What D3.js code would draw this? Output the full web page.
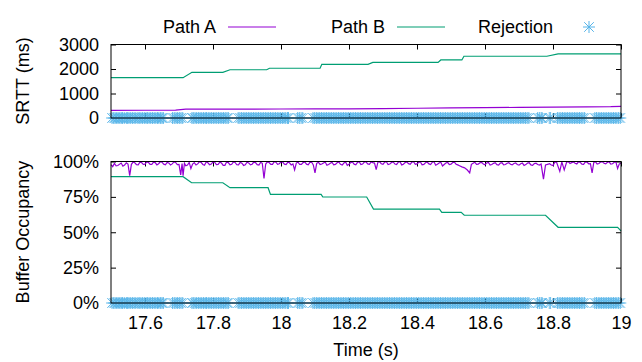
<!DOCTYPE html>
<html>
<head>
<meta charset="utf-8">
<script src="https://cdn.jsdelivr.net/npm/d3@7/dist/d3.min.js"></script>
<style>
  body { margin: 0; background: #fff; }
  svg text { font-family: "Liberation Sans", Arial, sans-serif; fill: #000; }
</style>
</head>
<body>
<svg id="chart" width="642" height="362"></svg>
<script>
// series names and colours
const seriesNames = ["Path A", "Path B", "Rejection"];
const seriesColors = ["#9400d3", "#009e73", "#56b4e9"];

// tick values
const xTicks = [17.6, 17.8, 18, 18.2, 18.4, 18.6, 18.8, 19];
const srttTicks = [0, 1000, 2000, 3000];
const bufTicks = [0, 25, 50, 75, 100];

// SRTT (ms), [time s, value]
const srttA = [
  [17.5, 310], [17.6, 316], [17.69, 322], [17.72, 360], [17.8, 362], [17.9, 365],
  [18.0, 368], [18.1, 370], [18.2, 375], [18.3, 385], [18.4, 398], [18.5, 410],
  [18.6, 422], [18.7, 433], [18.8, 444], [18.9, 455], [18.97, 464], [19.0, 478]
];
const srttB = [
  [17.5, 1645], [17.712, 1645], [17.738, 1865], [17.829, 1865], [17.85, 1970],
  [17.958, 1970], [17.966, 2030], [18.115, 2030], [18.12, 2190], [18.256, 2190],
  [18.27, 2270], [18.462, 2270], [18.47, 2370], [18.532, 2370], [18.538, 2520],
  [18.782, 2520], [18.815, 2620], [19.0, 2620]
];

// buffer occupancy (%), [time s, value]
const bufA = [
  [17.500, 97.8], [17.505, 96.4], [17.510, 98.6], [17.515, 96.9], [17.520, 97.2],
  [17.530, 98.9], [17.535, 96.7], [17.540, 97.5], [17.545, 99.0], [17.550, 98.2],
  [17.555, 90.0], [17.560, 98.0], [17.565, 99.6], [17.570, 99.1], [17.575, 97.8],
  [17.580, 97.6], [17.585, 99.5], [17.590, 99.3], [17.595, 97.9], [17.600, 98.1],
  [17.605, 99.7], [17.610, 99.4], [17.615, 98.0], [17.620, 97.9], [17.625, 99.6],
  [17.630, 99.2], [17.635, 97.6], [17.640, 98.4], [17.645, 99.8], [17.650, 99.5],
  [17.655, 98.1], [17.660, 97.7], [17.665, 99.4], [17.670, 99.0], [17.675, 97.5],
  [17.680, 98.3], [17.685, 99.7], [17.690, 99.3], [17.695, 97.8], [17.700, 98.0],
  [17.705, 90.5], [17.709, 98.5], [17.712, 90.0], [17.716, 98.8], [17.720, 97.0],
  [17.725, 97.5], [17.730, 99.4], [17.735, 95.0], [17.740, 98.2], [17.745, 99.2],
  [17.750, 97.5], [17.755, 98.3], [17.760, 99.8], [17.765, 99.4], [17.770, 97.9],
  [17.775, 97.4], [17.780, 99.6], [17.785, 99.1], [17.790, 97.7], [17.795, 98.2],
  [17.800, 99.7], [17.805, 99.5], [17.810, 97.8], [17.815, 97.9], [17.820, 99.5],
  [17.825, 98.9], [17.830, 97.2], [17.835, 97.3], [17.840, 99.6], [17.845, 99.2],
  [17.850, 97.6], [17.855, 98.0], [17.860, 99.7], [17.865, 99.3], [17.870, 97.7],
  [17.875, 97.6], [17.880, 99.4], [17.885, 98.8], [17.890, 97.2], [17.895, 97.7],
  [17.900, 99.5], [17.905, 99.0], [17.910, 97.6], [17.915, 98.1], [17.920, 99.6],
  [17.925, 99.2], [17.930, 97.8], [17.935, 97.5], [17.940, 99.4], [17.945, 98.7],
  [17.950, 88.0], [17.955, 98.2], [17.960, 99.7], [17.965, 99.3], [17.970, 97.9],
  [17.975, 98.0], [17.980, 99.8], [17.985, 99.5], [17.990, 98.0], [17.995, 98.4],
  [18.000, 99.8], [18.005, 99.6], [18.010, 98.1], [18.015, 97.8], [18.020, 99.5],
  [18.025, 99.1], [18.030, 97.6], [18.035, 98.3], [18.040, 94.0], [18.045, 98.9],
  [18.050, 99.6], [18.055, 97.9], [18.060, 98.0], [18.065, 99.2], [18.070, 99.7],
  [18.075, 98.1], [18.080, 97.7], [18.085, 99.4], [18.090, 99.6], [18.095, 97.6],
  [18.100, 92.0], [18.105, 98.7], [18.110, 99.5], [18.115, 97.9], [18.120, 98.2],
  [18.125, 99.0], [18.130, 99.6], [18.135, 97.4], [18.140, 97.9], [18.145, 98.8],
  [18.150, 99.5], [18.155, 97.7], [18.160, 98.0], [18.165, 99.1], [18.170, 99.7],
  [18.175, 98.0], [18.180, 97.5], [18.185, 98.9], [18.190, 99.6], [18.195, 97.3],
  [18.200, 98.0], [18.205, 99.2], [18.210, 99.7], [18.215, 98.1], [18.220, 97.7],
  [18.225, 99.4], [18.230, 99.8], [18.235, 97.8], [18.240, 98.2], [18.245, 99.6],
  [18.250, 99.8], [18.255, 98.3], [18.260, 98.0], [18.265, 99.7], [18.270, 99.2],
  [18.275, 98.9], [18.280, 94.2], [18.285, 99.5], [18.290, 99.8], [18.295, 98.4],
  [18.300, 98.0], [18.305, 99.6], [18.310, 99.8], [18.315, 97.9], [18.320, 98.2],
  [18.325, 99.3], [18.330, 99.7], [18.335, 98.2], [18.340, 97.9], [18.345, 99.5],
  [18.350, 99.8], [18.355, 97.6], [18.360, 98.1], [18.365, 99.2], [18.370, 99.7],
  [18.375, 98.5], [18.380, 98.0], [18.385, 99.6], [18.390, 99.8], [18.395, 98.0],
  [18.400, 98.3], [18.405, 99.4], [18.410, 99.7], [18.415, 97.7], [18.420, 98.0],
  [18.425, 99.1], [18.430, 99.6], [18.435, 98.3], [18.440, 97.8], [18.445, 99.5],
  [18.450, 99.8], [18.455, 97.4], [18.460, 98.0], [18.465, 99.0], [18.470, 99.5],
  [18.475, 96.8], [18.480, 97.9], [18.485, 98.9], [18.490, 99.4], [18.495, 97.8],
  [18.500, 98.1], [18.505, 99.3], [18.510, 99.6], [18.515, 98.1], [18.520, 97.6],
  [18.525, 97.0], [18.532, 96.2], [18.540, 95.5], [18.548, 94.0], [18.555, 92.0],
  [18.560, 98.0], [18.565, 98.8], [18.570, 99.5], [18.575, 97.9], [18.580, 98.1],
  [18.585, 99.1], [18.590, 99.4], [18.595, 98.2], [18.600, 97.7], [18.605, 99.0],
  [18.610, 99.3], [18.615, 97.5], [18.620, 97.9], [18.625, 98.7], [18.630, 99.2],
  [18.635, 97.8], [18.640, 97.5], [18.645, 98.9], [18.650, 99.1], [18.655, 97.6],
  [18.660, 97.9], [18.665, 98.8], [18.670, 99.2], [18.675, 98.1], [18.680, 97.6],
  [18.685, 98.6], [18.690, 99.0], [18.695, 97.9], [18.700, 97.4], [18.705, 98.4],
  [18.710, 98.9], [18.715, 97.2], [18.720, 97.8], [18.725, 98.9], [18.730, 99.1],
  [18.735, 97.6], [18.740, 97.3], [18.745, 98.5], [18.750, 98.8], [18.755, 97.9],
  [18.760, 97.5], [18.765, 98.2], [18.772, 87.5], [18.778, 97.6], [18.784, 98.0],
  [18.790, 98.4], [18.795, 97.5], [18.800, 97.1], [18.805, 99.4], [18.810, 99.8],
  [18.820, 93.0], [18.826, 99.7], [18.833, 94.0], [18.840, 99.5], [18.845, 99.9],
  [18.850, 98.6], [18.855, 99.2], [18.860, 99.7], [18.865, 98.8], [18.870, 98.3],
  [18.875, 99.8], [18.880, 99.4], [18.885, 98.1], [18.890, 98.0], [18.895, 99.7],
  [18.900, 99.6], [18.905, 98.4], [18.910, 98.5], [18.915, 92.0], [18.920, 99.3],
  [18.925, 99.8], [18.930, 98.2], [18.935, 98.6], [18.940, 99.6], [18.945, 99.9],
  [18.950, 98.7], [18.955, 98.3], [18.960, 99.4], [18.965, 99.8], [18.970, 98.1],
  [18.975, 98.4], [18.980, 99.5], [18.985, 99.7], [18.990, 95.0], [18.995, 98.3],
  [19.000, 98.8]
];
const bufB = [
  [17.5, 89.3], [17.712, 89.3], [17.737, 85.0], [17.829, 85.0], [17.85, 81.5],
  [17.962, 81.5], [17.969, 76.8], [18.118, 76.8], [18.123, 74.9], [18.252, 74.9],
  [18.272, 66.4], [18.466, 66.4], [18.473, 64.1], [18.53, 64.1], [18.539, 62.0],
  [18.778, 62.0], [18.815, 53.5], [18.99, 53.5], [19.0, 51.0]
];

// rejection event times (s)
const rejections = [
  17.503, 17.508, 17.512, 17.517, 17.521, 17.526, 17.530, 17.534, 17.539, 17.545,
  17.549, 17.553, 17.558, 17.563, 17.568, 17.573, 17.579, 17.583, 17.588, 17.593,
  17.598, 17.603, 17.607, 17.612, 17.617, 17.622, 17.627, 17.632, 17.637, 17.641,
  17.646, 17.650, 17.654,
  17.681, 17.686, 17.691, 17.696, 17.701, 17.706, 17.711,
  17.738, 17.742, 17.747, 17.752, 17.757, 17.762, 17.767, 17.772, 17.777, 17.781,
  17.786, 17.791, 17.796, 17.801, 17.806, 17.811, 17.816, 17.821, 17.826, 17.831,
  17.836, 17.841, 17.845,
  17.874, 17.879, 17.884, 17.889, 17.894, 17.899, 17.904, 17.909, 17.914, 17.919,
  17.924, 17.929, 17.934, 17.939, 17.944, 17.949, 17.954, 17.959, 17.964, 17.969,
  17.974, 17.979, 17.984, 17.989, 17.994, 17.999, 18.004, 18.009, 18.014, 18.019,
  18.022,
  18.049, 18.054, 18.059, 18.064,
  18.094, 18.099, 18.104, 18.109, 18.114, 18.119, 18.124, 18.129, 18.134, 18.139,
  18.144, 18.149, 18.154, 18.159, 18.164, 18.169, 18.174, 18.179, 18.184, 18.189,
  18.194, 18.199, 18.204, 18.209, 18.214, 18.219, 18.224, 18.229, 18.234, 18.239,
  18.244, 18.249, 18.254, 18.259, 18.264, 18.269, 18.274, 18.279, 18.284, 18.289,
  18.294, 18.299, 18.304, 18.309, 18.314, 18.319, 18.324, 18.329, 18.334, 18.339,
  18.344, 18.349, 18.354, 18.359, 18.364, 18.369, 18.374, 18.379, 18.384, 18.389,
  18.394, 18.399, 18.404, 18.409, 18.414, 18.419, 18.424, 18.429, 18.434, 18.439,
  18.444, 18.449, 18.454, 18.459, 18.464, 18.469, 18.474, 18.479, 18.484, 18.489,
  18.494, 18.499, 18.504, 18.509, 18.514, 18.519, 18.524, 18.529, 18.534, 18.539,
  18.544, 18.549, 18.554, 18.559, 18.564, 18.569, 18.574, 18.579, 18.584, 18.589,
  18.594, 18.599, 18.604, 18.609, 18.614, 18.619, 18.624, 18.629, 18.634, 18.639,
  18.644, 18.649, 18.654, 18.659, 18.664, 18.669, 18.674, 18.679, 18.684, 18.689,
  18.694, 18.699, 18.704, 18.709, 18.714, 18.719, 18.724, 18.729,
  18.755, 18.760, 18.765, 18.768,
  18.789, 18.793,
  18.813, 18.818, 18.823, 18.828, 18.833, 18.838, 18.843, 18.848, 18.853, 18.858,
  18.863, 18.868, 18.873, 18.878, 18.883, 18.888, 18.893,
  18.923, 18.928, 18.933, 18.938, 18.943, 18.948, 18.953, 18.958, 18.963, 18.968,
  18.973, 18.978, 18.983, 18.988, 18.993, 18.998
];

const svg = d3.select("#chart");
const fontSize = 18;

const x = d3.scaleLinear().domain([17.5, 19]).range([111, 621]);
const yTop = d3.scaleLinear().domain([0, 3000]).range([118, 44.5]);
const yBot = d3.scaleLinear().domain([0, 100]).range([303, 161.5]);

function drawPanel(y, ticks, fmt, showXLabels) {
  const [y0, y1] = y.range();
  const g = svg.append("g");

  // left axis with labels, inward ticks
  g.append("g")
    .attr("transform", "translate(" + x.range()[0] + ",0)")
    .call(d3.axisLeft(y).tickValues(ticks).tickFormat(fmt)
      .tickSizeInner(-5).tickSizeOuter(0).tickPadding(12))
    .call(a => a.select(".domain").remove())
    .call(a => a.selectAll("text").style("font-size", fontSize + "px"));
  // right mirror ticks
  g.append("g")
    .attr("transform", "translate(" + x.range()[1] + ",0)")
    .call(d3.axisRight(y).tickValues(ticks).tickFormat("")
      .tickSizeInner(-5).tickSizeOuter(0))
    .call(a => a.select(".domain").remove());
  // bottom ticks
  g.append("g")
    .attr("transform", "translate(0," + y0 + ")")
    .call(d3.axisBottom(x).tickValues(xTicks)
      .tickFormat(showXLabels ? d3.format("") : "")
      .tickSizeInner(-5).tickSizeOuter(0).tickPadding(13))
    .call(a => a.select(".domain").remove())
    .call(a => a.selectAll("text").style("font-size", fontSize + "px"));
  // top mirror ticks
  g.append("g")
    .attr("transform", "translate(0," + y1 + ")")
    .call(d3.axisTop(x).tickValues(xTicks).tickFormat("")
      .tickSizeInner(-5).tickSizeOuter(0))
    .call(a => a.select(".domain").remove());

  g.selectAll(".tick line").attr("stroke", "#000");
  return g;
}

function drawLine(g, data, y, color) {
  g.append("path")
    .datum(data)
    .attr("fill", "none")
    .attr("stroke", color)
    .attr("stroke-width", 1.2)
    .attr("d", d3.line().x(d => x(d[0])).y(d => y(d[1])));
}

function asterisk(s) {
  const d = s * 0.8;
  return "M" + (-s) + ",0H" + s + "M0," + (-s) + "V" + s +
    "M" + (-d) + "," + (-d) + "L" + d + "," + d +
    "M" + (-d) + "," + d + "L" + d + "," + (-d);
}

function drawRejections(g, y) {
  g.append("g").selectAll("path")
    .data(rejections)
    .join("path")
    .attr("transform", d => "translate(" + x(d) + "," + y(0) + ")")
    .attr("d", asterisk(6))
    .attr("fill", "none")
    .attr("stroke", seriesColors[2])
    .attr("stroke-width", 0.9);
}

function drawFrame(y) {
  const [y0, y1] = y.range();
  svg.append("rect")
    .attr("x", x.range()[0]).attr("y", y1)
    .attr("width", x.range()[1] - x.range()[0]).attr("height", y0 - y1)
    .attr("fill", "none").attr("stroke", "#000").attr("stroke-width", 1);
}

// top panel: SRTT
const gTop = drawPanel(yTop, srttTicks, d3.format("d"), false);
drawLine(gTop, srttA, yTop, seriesColors[0]);
drawLine(gTop, srttB, yTop, seriesColors[1]);
drawFrame(yTop);
drawRejections(gTop, yTop);

// bottom panel: buffer occupancy
const gBot = drawPanel(yBot, bufTicks, d => d + "%", true);
drawLine(gBot, bufA, yBot, seriesColors[0]);
drawLine(gBot, bufB, yBot, seriesColors[1]);
drawFrame(yBot);
drawRejections(gBot, yBot);

// axis titles
svg.append("text")
  .attr("transform", "translate(29,81) rotate(-90)")
  .attr("text-anchor", "middle")
  .style("font-size", fontSize + "px")
  .text("SRTT (ms)");
svg.append("text")
  .attr("transform", "translate(29,232) rotate(-90)")
  .attr("text-anchor", "middle")
  .style("font-size", fontSize + "px")
  .text("Buffer Occupancy");
svg.append("text")
  .attr("x", 366).attr("y", 356)
  .attr("text-anchor", "middle")
  .style("font-size", fontSize + "px")
  .text("Time (s)");

// legend
const legendX = [216, 385, 553];
const legend = svg.append("g");
seriesNames.forEach((name, i) => {
  legend.append("text")
    .attr("x", legendX[i]).attr("y", 27)
    .attr("dy", "0.35em")
    .attr("text-anchor", "end")
    .style("font-size", fontSize + "px")
    .text(name);
  if (i < 2) {
    legend.append("line")
      .attr("x1", legendX[i] + 12).attr("x2", legendX[i] + 60)
      .attr("y1", 27).attr("y2", 27)
      .attr("stroke", seriesColors[i]).attr("stroke-width", 1.2);
  } else {
    legend.append("path")
      .attr("transform", "translate(" + (legendX[i] + 36) + ",27)")
      .attr("d", asterisk(6))
      .attr("fill", "none")
      .attr("stroke", seriesColors[i]);
  }
});
</script>
</body>
</html>
